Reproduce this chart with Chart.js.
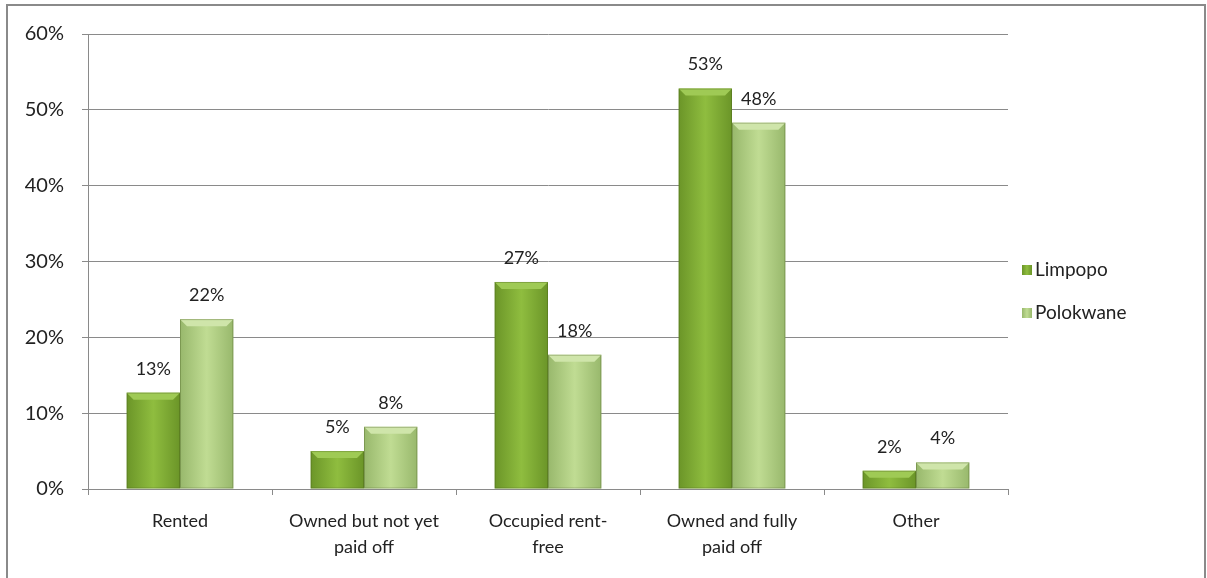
<!DOCTYPE html>
<html>
<head>
<meta charset="utf-8">
<script src="https://cdn.jsdelivr.net/npm/chart.js@4.4.0/dist/chart.umd.min.js"></script>
<style>
  body { margin: 0; background: #fff; }
  #wrap { position: relative; width: 1207px; height: 578px; }
  #frame { position: absolute; left: 6px; top: 4px; width: 1196px; height: 600px; border: 2px solid #8a8a8a; pointer-events: none; }
</style>
</head>
<body>
<div id="wrap">
  <canvas id="tenureChart" width="1207" height="578"></canvas>
  <div id="frame"></div>
</div>
<script>
// data
const categories = [['Rented'], ['Owned but not yet', 'paid off'], ['Occupied rent-', 'free'], ['Owned and fully', 'paid off'], ['Other']];
const limpopo = [12.7, 5.0, 27.3, 52.8, 2.4];
const polokwane = [22.4, 8.2, 17.7, 48.3, 3.5];
const seriesNames = ['Limpopo', 'Polokwane'];

const FONT = 'Lato, "Liberation Sans", sans-serif';

// shading for the bevelled Excel look
const shades = [
    { edge: '#6b9528', mid: '#8fbd3f', top: '#9fca55' },
    { edge: '#98b86c', mid: '#c0dc93', top: '#cfe5aa' }
];

const bevelBars = {
    id: 'bevelBars',
    afterDatasetsDraw(chart) {
        const c = chart.ctx;
        chart.data.datasets.forEach((ds, di) => {
            const meta = chart.getDatasetMeta(di);
            const s = shades[di];
            meta.data.forEach((bar, i) => {
                const p = bar.getProps(['x', 'y', 'base', 'width'], true);
                const l = p.x - p.width / 2, r = p.x + p.width / 2;
                const g = c.createLinearGradient(l, 0, r, 0);
                g.addColorStop(0, s.edge);
                g.addColorStop(0.5, s.mid);
                g.addColorStop(1, s.edge);
                c.save();
                c.fillStyle = g;
                c.fillRect(l, p.y, p.width, p.base - p.y);
                // top bevel
                const b = Math.min(7, (p.base - p.y) / 2);
                c.fillStyle = s.top;
                c.beginPath();
                c.moveTo(l, p.y);
                c.lineTo(r, p.y);
                c.lineTo(r - b, p.y + b);
                c.lineTo(l + b, p.y + b);
                c.closePath();
                c.fill();
                c.strokeStyle = 'rgba(60,80,20,0.3)';
                c.lineWidth = 1;
                c.strokeRect(l + 0.5, p.y + 0.5, p.width - 1, p.base - p.y - 1);
                // value label
                c.fillStyle = '#222';
                c.font = '18px ' + FONT;
                c.textAlign = 'center';
                c.textBaseline = 'middle';
                c.fillText(Math.round(ds.data[i]) + '%', p.x, p.y - 24);
                c.restore();
            });
        });
    }
};

const sideLegend = {
    id: 'sideLegend',
    afterDraw(chart) {
        const c = chart.ctx;
        const x0 = chart.chartArea.right + 14;
        c.save();
        c.font = '19px ' + FONT;
        c.textBaseline = 'middle';
        seriesNames.forEach((name, i) => {
            const y = 270 + i * 43;
            const s = shades[i];
            const g = c.createLinearGradient(x0, 0, x0 + 10, 0);
            g.addColorStop(0, s.edge);
            g.addColorStop(0.5, s.mid);
            g.addColorStop(1, s.edge);
            c.fillStyle = g;
            c.fillRect(x0, y - 5, 10, 10);
            c.fillStyle = '#222';
            c.fillText(name, x0 + 13, y);
        });
        c.restore();
    }
};

const ctx = document.getElementById('tenureChart').getContext('2d');
const tenureChart = new Chart(ctx, {
    type: 'bar',
    data: {
        labels: categories,
        datasets: [
            { label: seriesNames[0], data: limpopo, backgroundColor: 'rgba(0,0,0,0)' },
            { label: seriesNames[1], data: polokwane, backgroundColor: 'rgba(0,0,0,0)' }
        ]
    },
    options: {
        responsive: false,
        animation: false,
        layout: { padding: { top: 34, right: 199, left: 0, bottom: 0 } },
        datasets: { bar: { barPercentage: 1, categoryPercentage: 0.58 } },
        plugins: { legend: { display: false }, tooltip: { enabled: false } },
        scales: {
            x: {
                grid: { offset: true, drawOnChartArea: false, color: '#8a8a8a', tickLength: 6 },
                border: { color: '#8a8a8a' },
                ticks: { color: '#222', font: { family: FONT, size: 18, lineHeight: 1.4 }, padding: 14, maxRotation: 0 },
                afterFit(scale) { scale.height = 89; }
            },
            y: {
                min: 0, max: 60,
                ticks: { stepSize: 10, color: '#222', font: { family: FONT, size: 20 }, padding: 18, callback: v => v + '%' },
                grid: { color: '#8a8a8a', tickLength: 6 },
                border: { color: '#8a8a8a' },
                afterFit(scale) { scale.width = 88; }
            }
        }
    },
    plugins: [bevelBars, sideLegend]
});
</script>
</body>
</html>
